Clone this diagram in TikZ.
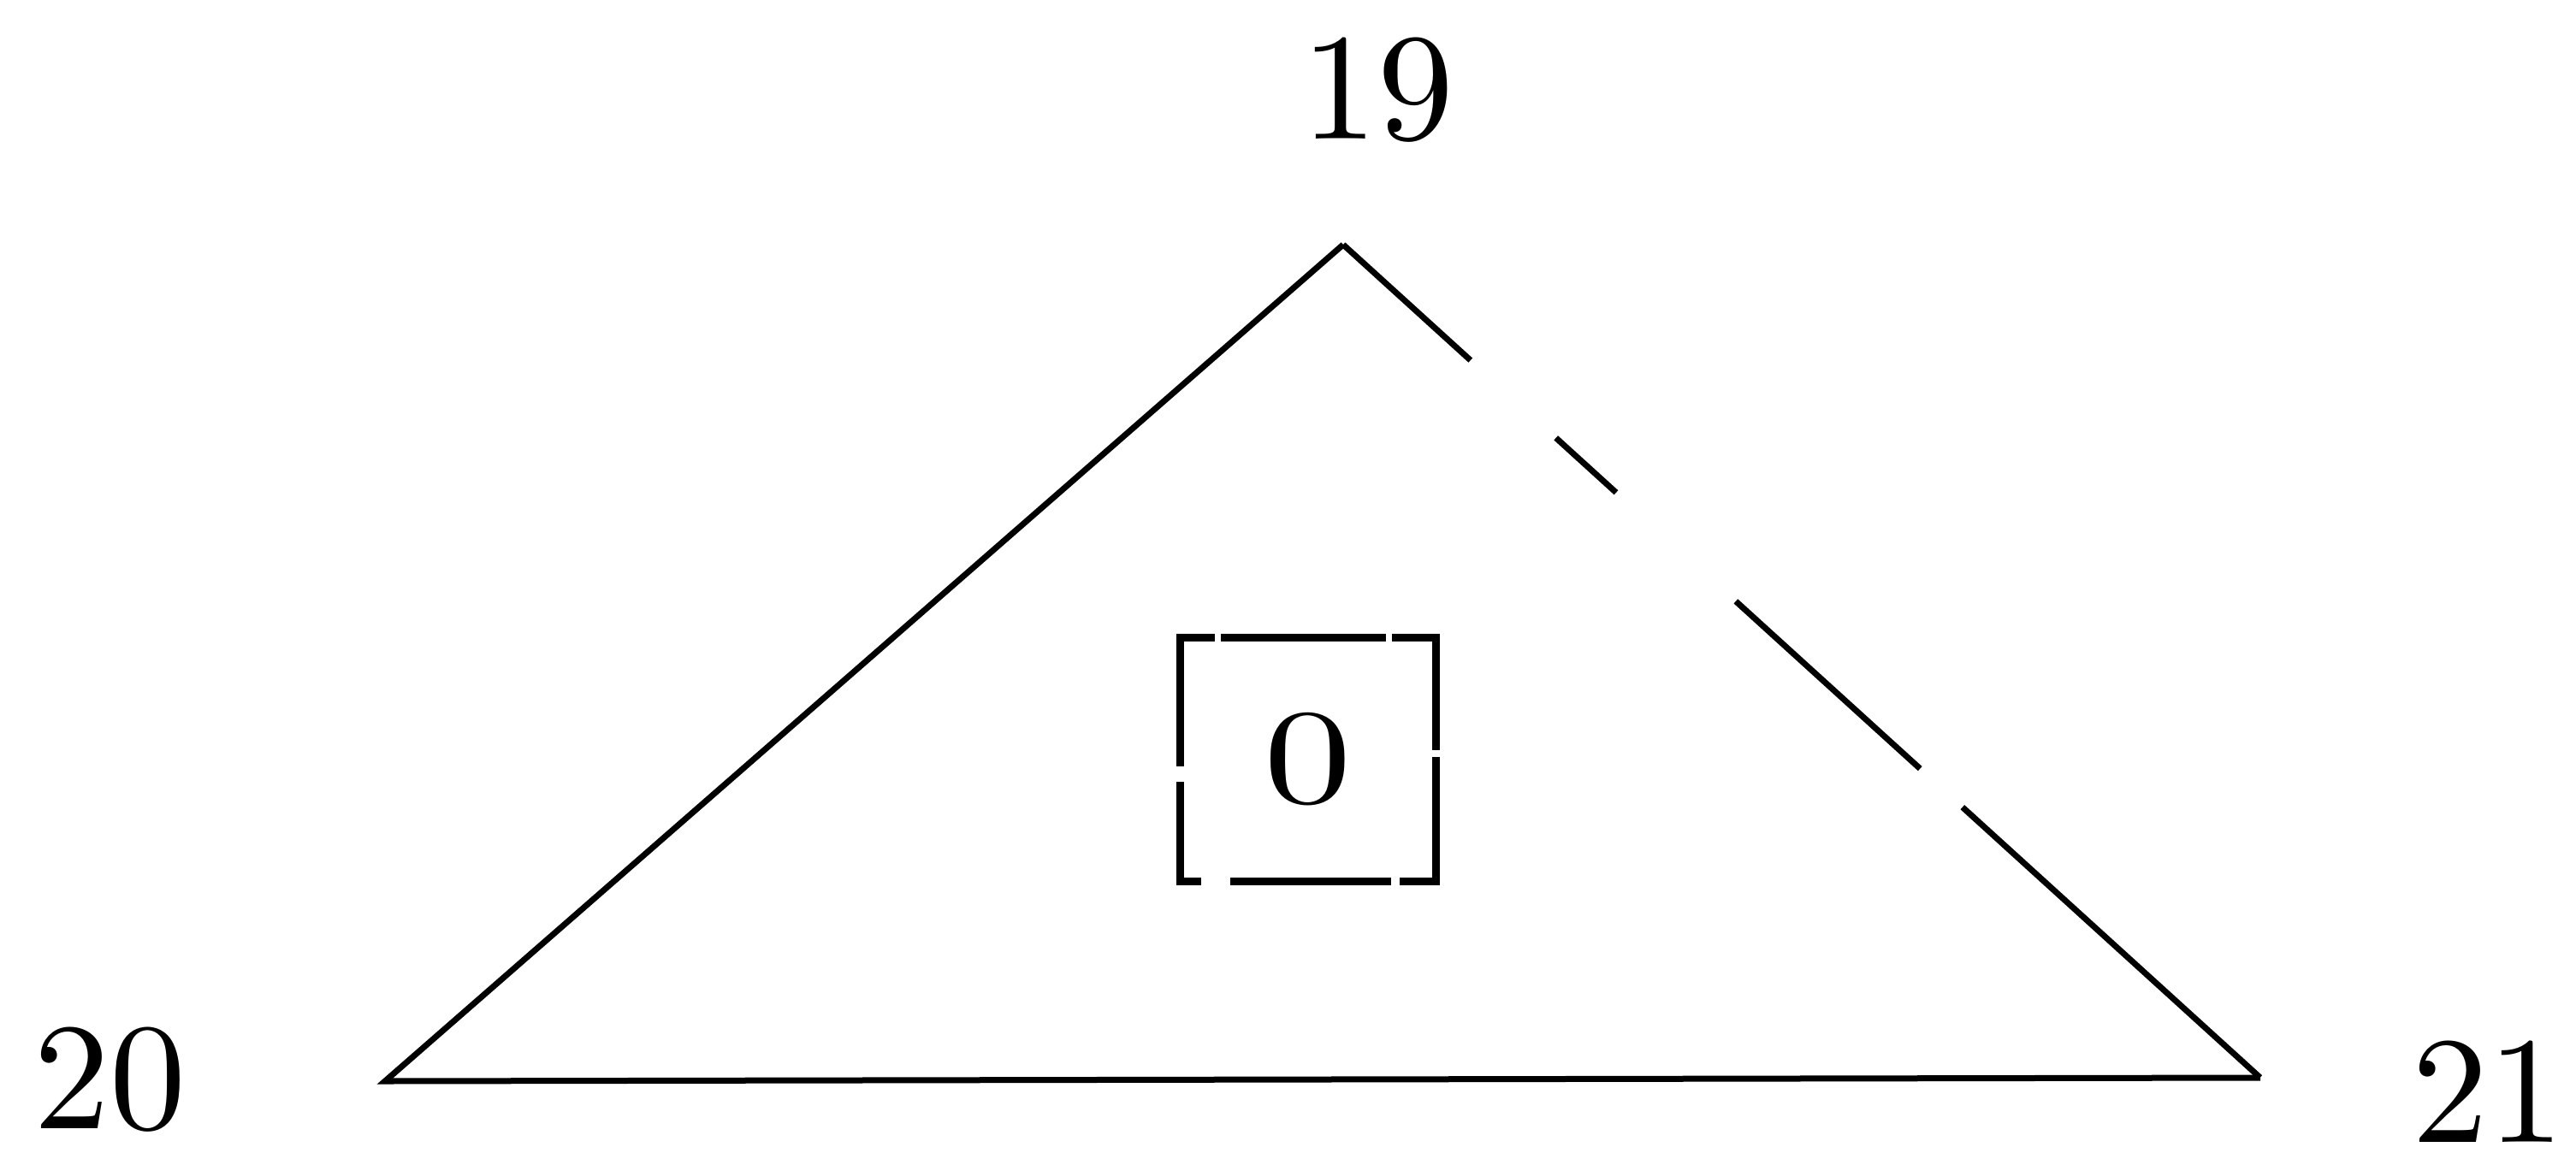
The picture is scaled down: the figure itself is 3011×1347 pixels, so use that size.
\documentclass[tikz,border=0pt]{standalone}
\usepackage{fontspec}
\newfontfamily\tenrm{lmroman10-regular.otf}
\begin{document}
\begin{tikzpicture}[x=1pt,y=-1pt,
    edge/.style={line width=7pt},
    numlabel/.style={font=\tenrm\fontsize{178}{190}\selectfont, inner sep=0pt},
    boxnode/.style={font=\tenrm\fontsize{158}{170}\selectfont, inner sep=0pt,
        minimum width=298pt, minimum height=285pt}]
    \useasboundingbox (0,0) rectangle (3011,1347);

    % Define nodes
    \coordinate (19) at (1570,286);
    \coordinate (20) at (450,1264);
    \coordinate (21) at (2642,1260);
    \node[numlabel] (l19) at (1610,105) {19};
    \node[numlabel] (l20) at (128,1262) {20};
    \node[numlabel] (l21) at (2908,1276) {21};
    \node[boxnode] (box) at (1529,888) {\scalebox{1.3}[1]{0}};

    % Draw edges
    \draw[edge, line join=miter] (19) -- (20) -- (21);
    \draw[edge, dash pattern=on 201pt off 135pt on 95pt off 189pt on 291pt off 67pt on 470pt] (19) -- (21);

    % Broken frame round the 0
    \draw[line width=9pt, line cap=rect,
        dash pattern=on 36pt off 16pt on 184pt off 16pt on 174pt off 17pt on 179pt off 19pt on 179pt off 43pt on 131pt off 27pt on 145pt]
        (box.north west) -- (box.north east) -- (box.south east) -- (box.south west) -- cycle;

\end{tikzpicture}
\end{document}
